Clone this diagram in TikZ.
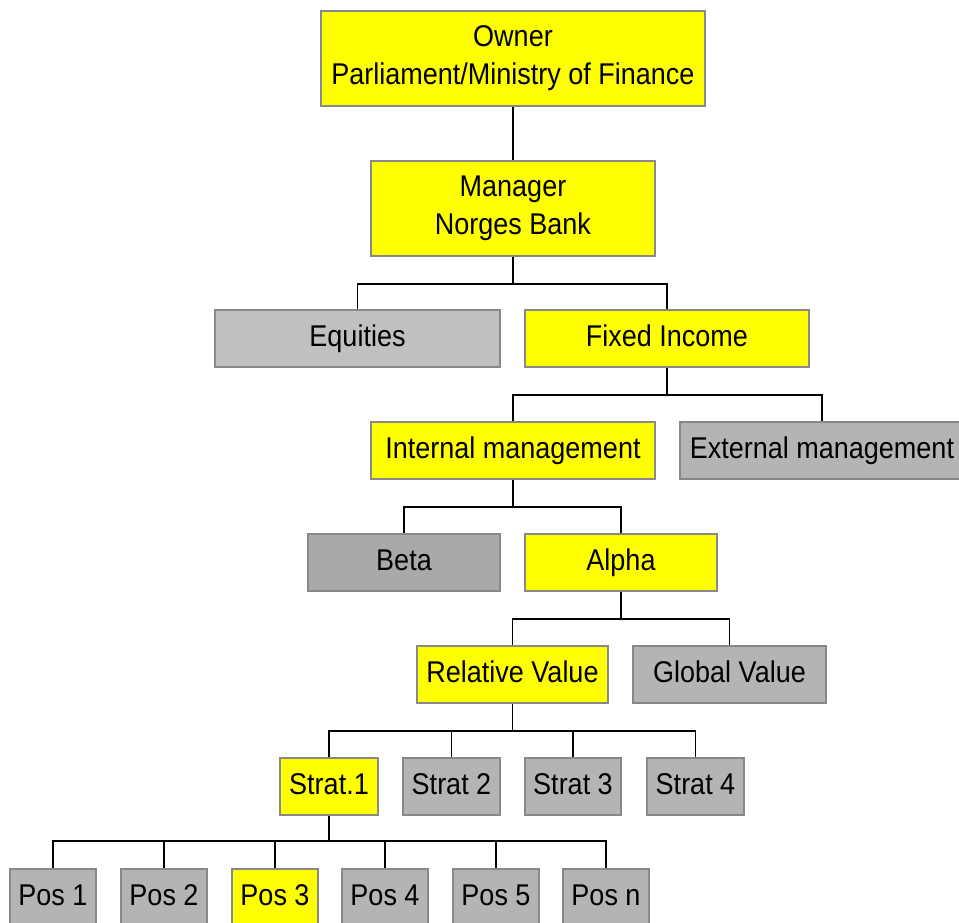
\documentclass[tikz,border=0pt]{standalone}
\usepackage{fontspec}
\setmainfont[FakeStretch=0.9]{Liberation Sans}
\definecolor{boxyellow}{HTML}{FFFF00}
\definecolor{boxgray}{HTML}{B4B4B4}
\definecolor{lightgray}{HTML}{C0C0C0}
\definecolor{darkgray}{HTML}{A9A9A9}
\definecolor{boxline}{HTML}{888888}
\tikzset{
  box/.style={draw=boxline,line width=1.8pt,inner sep=0pt,minimum height=57pt,
    font=\fontsize{30}{38}\selectfont,text height=21pt,text depth=5.4pt},
  yellowbox/.style={box,fill=boxyellow},
  graybox/.style={box,fill=boxgray},
  tall/.style={minimum height=95pt,align=center,text height=,text depth=},
  link/.style={line width=1.5pt}
}
\begin{document}
\begin{tikzpicture}[x=1pt,y=-1pt]
\useasboundingbox(0,0)rectangle(959,923);
\node[yellowbox,tall,minimum width=384pt](own)at(513,58.5){Owner\\Parliament/Ministry of Finance};
\node[yellowbox,tall,minimum width=284pt](man)at(513,208.5){Manager\\Norges Bank};
\node[graybox,fill=lightgray,minimum width=285pt](eq)at(357.5,338.5){Equities};
\node[yellowbox,minimum width=284pt](fi)at(667,338.5){Fixed Income};
\node[yellowbox,minimum width=284pt](int)at(513,450.5){Internal management};
\node[graybox,minimum width=284pt](ext)at(822,450.5){External management};
\node[graybox,fill=darkgray,minimum width=192pt](beta)at(404,562.5){Beta};
\node[yellowbox,minimum width=192pt](alpha)at(621,562.5){Alpha};
\node[yellowbox,minimum width=191pt](rv)at(512.5,674.5){Relative Value};
\node[graybox,minimum width=193pt](gv)at(729.5,674.5){Global Value};
\node[yellowbox,minimum width=98pt](s1)at(329,786.5){Strat.1};
\node[graybox,minimum width=97pt](s2)at(451.5,786.5){Strat 2};
\node[graybox,minimum width=96pt](s3)at(573,786.5){Strat 3};
\node[graybox,minimum width=97pt](s4)at(695.5,786.5){Strat 4};
\node[graybox,minimum width=86pt](p1)at(53,897.5){Pos 1};
\node[graybox,minimum width=86pt](p2)at(164,897.5){Pos 2};
\node[yellowbox,minimum width=86pt](p3)at(275,897.5){Pos 3};
\node[graybox,minimum width=86pt](p4)at(385,897.5){Pos 4};
\node[graybox,minimum width=86pt](p5)at(496,897.5){Pos 5};
\node[graybox,minimum width=86pt](pn)at(606,897.5){Pos n};
\draw[link](own)--(man);
\draw[link](man.south)--++(0,27)coordinate(j1);
\draw[link](eq.north)|-(j1)-|(fi.north);
\draw[link](fi.south)--++(0,27)coordinate(j2);
\draw[link](int.north)|-(j2)-|(ext.north);
\draw[link](int.south)--++(0,27)coordinate(j3);
\draw[link](beta.north)|-(j3)-|(alpha.north);
\draw[link](alpha.south)--++(0,27)coordinate(j4);
\draw[link](rv.north)|-(j4)-|(gv.north);
\draw[link](rv.south)--++(0,27)coordinate(j5);
\foreach \s in {s1,s2,s3,s4}\draw[link](j5)-|(\s.north);
\draw[link](s1.south)--++(0,25)coordinate(j6);
\foreach \p in {p1,p2,p3,p4,p5,pn}\draw[link](j6)-|(\p.north);
\end{tikzpicture}
\end{document}
